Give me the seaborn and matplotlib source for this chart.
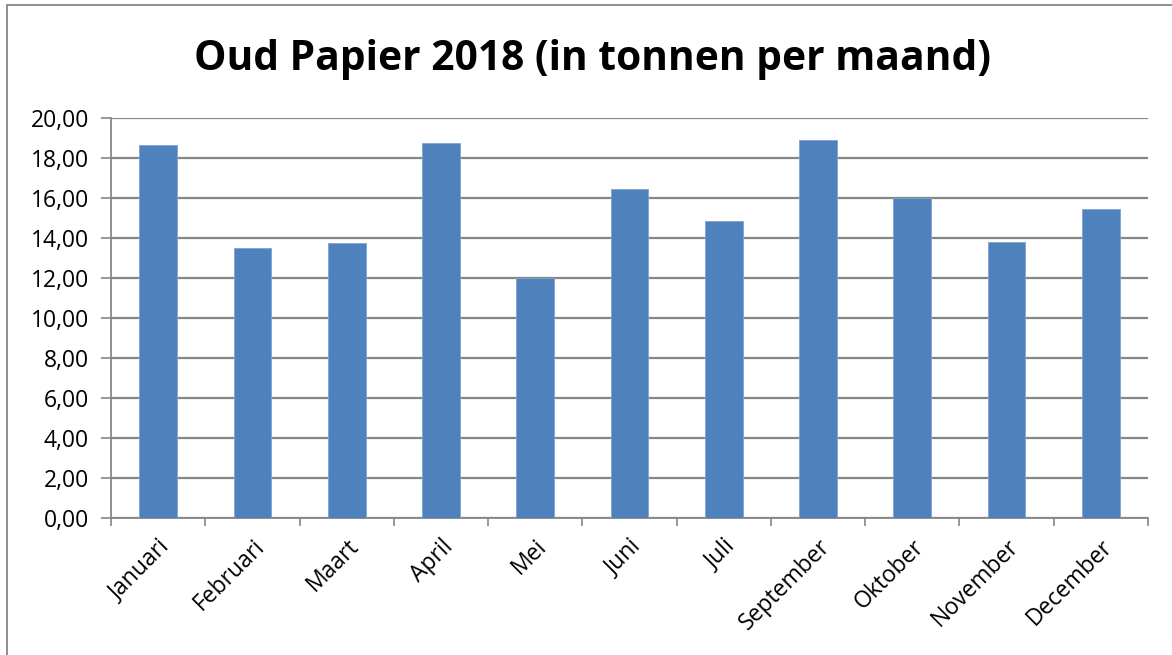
import matplotlib
matplotlib.use("Agg")
import matplotlib.pyplot as plt
import seaborn as sns
import pandas as pd
from matplotlib.patches import Rectangle
from matplotlib.ticker import FuncFormatter, FixedLocator

months = ["Januari", "Februari", "Maart", "April", "Mei", "Juni", "Juli",
          "September", "Oktober", "November", "December"]
tonnen = [18.63, 13.48, 13.73, 18.73, 11.98, 16.43, 14.83, 18.90, 16.00, 13.80, 15.43]
title = "Oud Papier 2018 (in tonnen per maand)"

sns.set_theme(style="white")
plt.rcParams["font.family"] = ["Open Sans", "DejaVu Sans"]

df = pd.DataFrame({"maand": months, "tonnen": tonnen})

fig = plt.figure(figsize=(11.72, 6.55), dpi=100)
ax = fig.add_axes([111 / 1172, 1 - 518 / 655, (1148 - 111) / 1172, 400 / 655])

sns.barplot(data=df, x="maand", y="tonnen", color="#4F81BD", width=0.4,
            saturation=1, ax=ax, edgecolor="#7FA3D1", linewidth=0.6, zorder=3)

ax.set_ylim(0, 20)
ax.set_xlim(-0.5, len(months) - 0.5)
ax.set_yticks([0, 2, 4, 6, 8, 10, 12, 14, 16, 18, 20])
ax.yaxis.set_major_formatter(FuncFormatter(lambda v, p: f"{v:.2f}".replace(".", ",")))
ax.yaxis.grid(True, color="#868686", linewidth=1.6, zorder=0)
ax.set_axisbelow(True)
ax.set_xlabel("")
ax.set_ylabel("")

for s in ["top", "right"]:
    ax.spines[s].set_visible(False)
for s in ["left", "bottom"]:
    ax.spines[s].set_color("#868686")
    ax.spines[s].set_linewidth(1.3)

ax.tick_params(axis="y", which="major", left=True, length=7, width=1.2,
               color="#868686", labelsize=16.5, labelcolor="black", pad=9)
ax.tick_params(axis="x", which="major", bottom=False, length=0,
               labelsize=16.5, labelcolor="black", pad=12)
ax.xaxis.set_minor_locator(FixedLocator([i - 0.5 for i in range(len(months) + 1)]))
ax.tick_params(axis="x", which="minor", bottom=True, length=6, width=1.2, color="#868686")

for lbl in ax.get_xticklabels():
    lbl.set_rotation(45)
    lbl.set_ha("right")
    lbl.set_va("top")
    lbl.set_rotation_mode("anchor")

fig.text(592 / 1172, 1 - 59 / 655, title, ha="center", va="center",
         fontsize=29.3, fontweight="bold", color="black")

fig.patches.append(Rectangle((7 / 1172, -0.05), 1.2, 1.05 - 5 / 655,
                             transform=fig.transFigure, fill=False,
                             edgecolor="#868686", linewidth=1.3))

fig.savefig("out.png", dpi=100, facecolor="white")
